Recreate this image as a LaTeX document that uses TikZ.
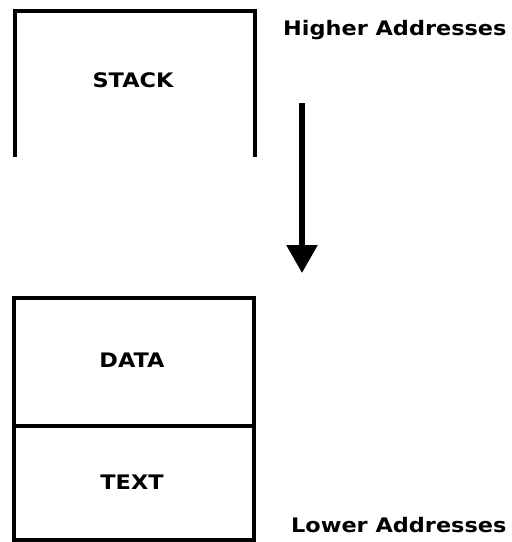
\documentclass[tikz,border=0pt]{standalone}
\usepackage{fontspec}
\newfontfamily\pixfont[FakeStretch=1.12]{DejaVu Sans}
\usetikzlibrary{arrows.meta}

\begin{document}
\begin{tikzpicture}[x=1pt,y=-1pt,
	wall/.style={line width=4pt},
	seglabel/.style={font=\pixfont\bfseries\fontsize{20}{22}\selectfont,inner sep=0pt},
	addrlabel/.style={font=\pixfont\bfseries\fontsize{20}{22}\selectfont,inner sep=0pt}]

\useasboundingbox (0,0) rectangle (512,542);

% stack segment, open at the bottom
\draw[wall] (15,157)--(15,11)--(255,11)--(255,157);
\node[seglabel] (stack) at (133,80) {STACK};

% data and text segments
\draw[wall] (14,298) rectangle (254,540);
\draw[wall] (14,426)--(254,426);
\node[seglabel] (data) at (132,360) {DATA};
\node[seglabel] (text) at (132,482) {TEXT};

% growth direction
\coordinate (top) at (302,103);
\coordinate (tip) at (302,273);
\draw[line width=5.5pt,-{Triangle[width=30pt,length=28pt]}] (top)--(tip);

\node[addrlabel,anchor=west] (high) at (283,30) {Higher Addresses};
\node[addrlabel,anchor=west] (low) at (291,525) {Lower Addresses};

\end{tikzpicture}
\end{document}
